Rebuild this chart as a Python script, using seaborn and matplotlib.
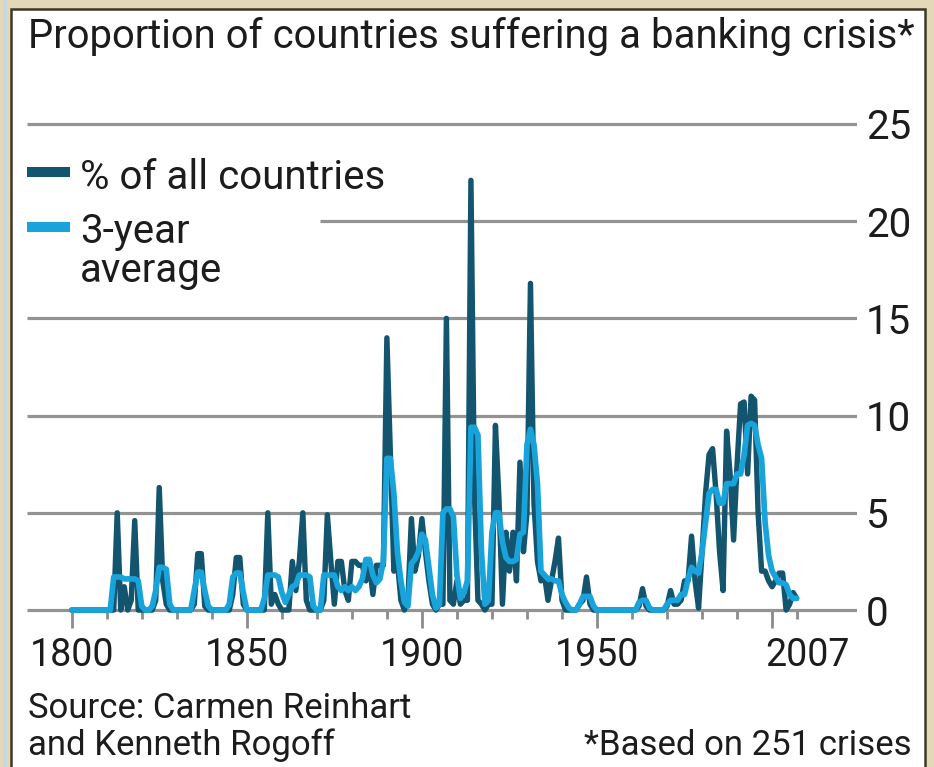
import matplotlib
matplotlib.use("Agg")
import matplotlib.pyplot as plt
import matplotlib.transforms as mtransforms
from matplotlib.lines import Line2D
from matplotlib.patches import Rectangle
import pandas as pd
import seaborn as sns

# ---------------------------------------------------------------- data
years = list(range(1800, 2008))

# share of all countries in a banking crisis, % (one value per year)
pct_all = [
    0, 0, 0, 0, 0, 0, 0, 0, 0, 0,                          # 1800s
    0, 0, 0, 5.0, 0, 1.2, 0, 0.5, 4.6, 0,                  # 1810s
    0, 0, 0, 0, 0.5, 6.3, 1.5, 0.3, 0, 0,                  # 1820s
    0, 0, 0, 0, 0, 0.3, 2.9, 2.9, 0.2, 0,                  # 1830s
    0, 0, 0, 0, 0, 0, 0.8, 2.7, 2.7, 0.3,                  # 1840s
    0, 0, 0, 0, 0, 0, 5.0, 0.3, 0.8, 0.3,                  # 1850s
    0, 0, 0, 2.5, 1.0, 2.5, 5.0, 0.5, 0, 0,                # 1860s
    0, 0, 0.5, 4.9, 2.5, 0.3, 2.5, 2.5, 1.0, 0.5,          # 1870s
    2.5, 2.5, 2.3, 2.3, 1.5, 2.4, 0.8, 2.3, 2.3, 2.3,      # 1880s
    14.0, 8.0, 2.0, 2.5, 0.5, 0, 0.5, 4.7, 2.0, 2.8,       # 1890s
    4.7, 3.0, 1.5, 0.3, 0, 0.3, 0.3, 15.0, 0.5, 0.3,       # 1900s
    1.5, 0.3, 0.5, 0.5, 22.1, 6.0, 0.5, 0.3, 0, 0.3,       # 1910s
    0.3, 9.5, 5.7, 0.3, 4.0, 2.0, 4.0, 1.5, 7.6, 3.0,      # 1920s
    5.0, 16.8, 5.5, 2.5, 1.5, 1.8, 0.5, 1.5, 2.5, 3.7,     # 1930s
    0.5, 0, 0, 0, 0, 0.3, 0.5, 1.7, 0.3, 0,                # 1940s
    0, 0, 0, 0, 0, 0, 0, 0, 0, 0,                          # 1950s
    0, 0, 0.2, 1.1, 0.2, 0, 0, 0, 0, 0,                    # 1960s
    0.2, 1.0, 0.3, 0.3, 0.5, 1.5, 1.5, 3.8, 1.5, 0.1,      # 1970s
    3.0, 6.0, 8.0, 8.3, 6.0, 3.0, 1.0, 9.2, 7.0, 3.6,      # 1980s
    7.5, 10.6, 10.7, 7.0, 11.0, 10.8, 5.0, 2.0, 2.0, 1.5,  # 1990s
    1.2, 1.5, 1.9, 1.9, 0, 0.3, 0.9, 0.6,                  # 2000-07
]

# three-year average, %
avg_3yr = [
    0, 0, 0, 0, 0, 0, 0, 0, 0, 0,                          # 1800s
    0, 0, 1.7, 1.7, 1.7, 1.6, 1.6, 1.6, 1.6, 1.5,          # 1810s
    0.2, 0, 0, 0.2, 1.0, 2.2, 2.2, 2.1, 0.3, 0,            # 1820s
    0, 0, 0, 0, 0, 1.0, 1.95, 1.95, 1.0, 0.2,              # 1830s
    0, 0, 0, 0, 0, 0.3, 1.7, 1.9, 1.9, 0.9,                # 1840s
    0, 0, 0, 0, 0, 0.6, 1.8, 1.8, 1.8, 1.7,                # 1850s
    0.9, 0.4, 0.8, 1.2, 1.3, 1.8, 1.8, 1.8, 1.7, 0.2,      # 1860s
    0, 0, 1.8, 1.8, 1.8, 1.8, 1.2, 1.0, 1.2, 1.0,          # 1870s
    1.2, 1.0, 1.2, 1.6, 2.6, 2.6, 1.8, 1.4, 1.6, 2.5,      # 1880s
    7.8, 7.8, 6.0, 3.0, 1.5, 0.4, 0.2, 2.4, 2.6, 3.0,      # 1890s
    3.9, 3.6, 2.2, 0.8, 0.1, 0.3, 5.0, 5.2, 5.2, 4.8,      # 1900s
    1.8, 0.6, 0.9, 1.5, 9.4, 9.4, 9.0, 3.0, 0.3, 0.5,      # 1910s
    4.0, 5.0, 5.0, 3.5, 2.7, 2.5, 2.5, 2.6, 3.9, 4.0,      # 1920s
    8.5, 9.3, 8.5, 6.5, 2.0, 1.8, 1.6, 1.6, 1.5, 1.5,      # 1930s
    0.8, 0.4, 0.1, 0, 0, 0.3, 0.7, 0.7, 0.7, 0.2,          # 1940s
    0, 0, 0, 0, 0, 0, 0, 0, 0, 0,                          # 1950s
    0, 0, 0.4, 0.5, 0.5, 0.1, 0, 0, 0, 0,                  # 1960s
    0.3, 0.5, 0.5, 0.5, 0.8, 0.8, 1.6, 2.2, 2.0, 1.9,      # 1970s
    3.0, 4.5, 6.0, 6.2, 6.2, 5.5, 5.5, 6.5, 6.5, 6.5,      # 1980s
    7.0, 7.0, 8.0, 9.5, 9.6, 9.5, 8.5, 7.8, 4.5, 2.8,      # 1990s
    2.0, 1.7, 1.4, 1.4, 1.3, 0.8, 0.6, 0.6,                # 2000-07
]

y_ticks = [0, 5, 10, 15, 20, 25]
x_major = [1800, 1850, 1900, 1950, 2000]
x_minor = [1810, 1820, 1830, 1840, 1860, 1870, 1880, 1890, 1910, 1920,
           1930, 1940, 1960, 1970, 1980, 1990, 2007]
x_labels = [1800, 1850, 1900, 1950]
last_year = 2007

title = "Proportion of countries suffering a banking crisis*"
key_dark = ["% of all countries"]
key_light = ["3-year", "average"]
source_lines = ["Source: Carmen Reinhart", "and Kenneth Rogoff"]
footnote = "*Based on 251 crises"

# ---------------------------------------------------------------- style
DARK = "#13546f"
LIGHT = "#18a3db"
GRID = "#939393"
TICK = "#8c8c8c"
TEXT = "#1c1c1c"
BORDER_BG = "#e3d9b8"

sns.set_theme(style="white")
plt.rcParams["font.family"] = ["Roboto", "DejaVu Sans"]

W, H = 934, 767
fig = plt.figure(figsize=(W / 100, H / 100), dpi=100)
fig.patch.set_facecolor(BORDER_BG)


def fx(px):
    return px / W


def fy(py):
    return 1 - py / H


# white panel with a dark rule round it
fig.add_artist(Rectangle((fx(11), -0.05), fx(925 - 11), fy(9) + 0.05,
                         transform=fig.transFigure, facecolor="white",
                         edgecolor="#3d3926", linewidth=1.8, zorder=-2))
fig.add_artist(Rectangle((fx(3), 0), fx(4), 1, transform=fig.transFigure,
                         facecolor="#c9d6db", edgecolor="none", zorder=-3))

# plotting area: 1800 -> x=71.7 px, 2007 -> x=796.6 px; 0 -> y=610, 25 -> y=124
ax = fig.add_axes([fx(27), fy(639.2), fx(830), 544.4 / H])
ax.set_facecolor("none")
ax.set_xlim(1787.24, 2024.24)
ax.set_ylim(-1.5, 26.5)

for v in y_ticks:
    start = 0.353 if v == 20 else 0.0
    ax.axhline(v, xmin=start, xmax=1.0, color=GRID, linewidth=2.3,
               zorder=1, solid_capstyle="butt")

df = pd.DataFrame({"year": years, "pct": pct_all, "avg": avg_3yr})
sns.lineplot(data=df, x="year", y="pct", ax=ax, color=DARK, linewidth=3.9,
             solid_joinstyle="round", solid_capstyle="round", zorder=3)
sns.lineplot(data=df, x="year", y="avg", ax=ax, color=LIGHT, linewidth=4.1,
             solid_joinstyle="round", solid_capstyle="round", zorder=4)
ax.set_xlabel("")
ax.set_ylabel("")

for s in ax.spines.values():
    s.set_visible(False)
ax.spines["bottom"].set_position(("data", 0))

# decade ticks hang below the zero line, longer every half-century
ax.set_xticks(x_major)
ax.set_xticks(x_minor, minor=True)
ax.tick_params(axis="x", which="major", bottom=True, direction="out",
               length=13, width=2.0, color=TICK, labelbottom=False)
ax.tick_params(axis="x", which="minor", bottom=True, direction="out",
               length=6.5, width=2.0, color=TICK, labelbottom=False)

ax.set_yticks(y_ticks)
ax.yaxis.tick_right()
ax.tick_params(axis="y", which="both", length=0, pad=6.5, labelsize=29,
               labelcolor=TEXT, left=False, right=False)

# year labels under the axis
lab_tr = mtransforms.blended_transform_factory(ax.transData, fig.transFigure)
for yr in x_labels:
    ax.text(yr, fy(666), str(yr), transform=lab_tr, ha="center",
            va="baseline", fontsize=27, color=TEXT)
ax.text(last_year, fy(666), str(last_year),
        transform=lab_tr + mtransforms.ScaledTranslation(0.11, 0, fig.dpi_scale_trans),
        ha="center", va="baseline", fontsize=27, color=TEXT)

# title
fig.text(fx(28), fy(48), title, ha="left", va="baseline", fontsize=28.9,
         color=TEXT)

# key
for cy, col in ((172, DARK), (227, LIGHT)):
    fig.add_artist(Line2D([fx(27), fx(70)], [fy(cy), fy(cy)],
                          transform=fig.transFigure, color=col,
                          linewidth=7.2, solid_capstyle="butt"))
for line, base in zip(key_dark + key_light, (189, 243, 282)):
    fig.text(fx(80), fy(base), line, ha="left", va="baseline",
             fontsize=29, color=TEXT)

# source and footnote
for line, base in zip(source_lines, (718, 755)):
    fig.text(fx(28), fy(base), line, ha="left", va="baseline", fontsize=25,
             color=TEXT)
fig.text(fx(912), fy(755), footnote, ha="right", va="baseline", fontsize=25,
         color=TEXT)

fig.savefig("out.png", dpi=100, facecolor=fig.get_facecolor())
